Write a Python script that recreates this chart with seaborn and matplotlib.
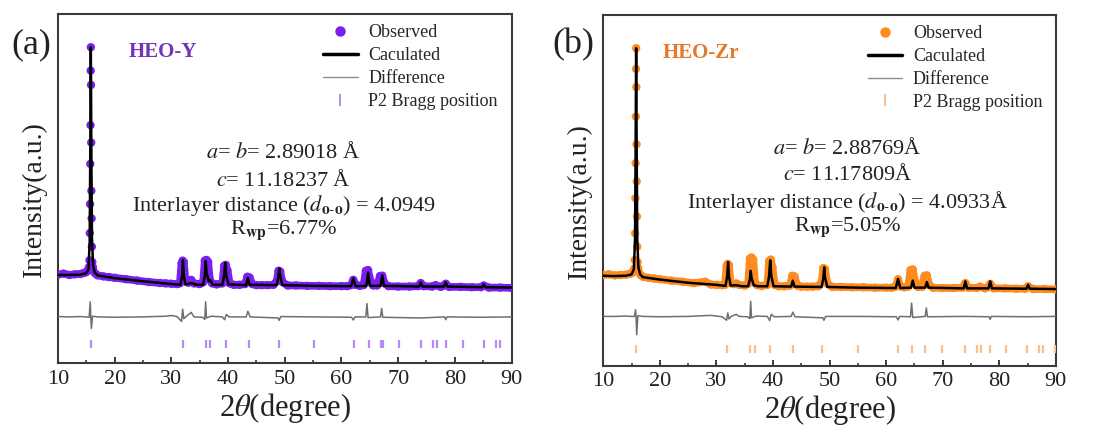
import numpy as np
import pandas as pd
import matplotlib
matplotlib.use('Agg')
import matplotlib.pyplot as plt
import seaborn as sns
from matplotlib.lines import Line2D
from matplotlib.ticker import MultipleLocator

sns.set_theme(style='ticks')
plt.rcParams['font.family'] = ['Liberation Serif', 'DejaVu Serif']
plt.rcParams['mathtext.fontset'] = 'stix'

# ---- panel (a): HEO-Y ----
obs_x_a = [10, 11, 12, 13, 14, 14.6, 15.0, 15.3, 15.45,
           15.56, 15.62, 15.67, 15.71, 15.75, 15.78, 15.81, 15.84, 15.87, 15.90, 15.94, 15.99, 16.06,
           16.15, 16.3, 16.6, 17, 18, 19, 20, 22, 24, 26, 28, 29, 30, 31, 31.5, 31.8, 32.0, 32.2, 32.5,
           33.0, 33.5, 34.0, 35.0, 35.6, 35.9, 36.2, 36.5, 36.8, 37.2, 38, 39.0, 39.3, 39.6, 39.9, 40.3,
           41, 42, 43, 43.4, 43.8, 44.3, 45, 46, 47, 48, 48.6, 48.9, 49.2, 49.6, 50.5, 52, 54, 56, 58, 60,
           61, 61.7, 62.1, 62.5, 63.2, 63.9, 64.3, 64.7, 65.1, 65.6, 66.3, 66.8, 67.2, 67.6, 68.3, 70, 72,
           73.5, 74, 74.5, 76, 76.6, 77.5, 78, 78.4, 79, 81, 83, 84.6, 85.1, 86, 88, 90]
obs_y_a = [25.4, 25.7, 25.3, 25.5, 25.6, 25.9, 26.1, 26.6, 27.5,
           29.5, 37.3, 45.6, 57.1, 68.2, 83.8, 90.5, 79.7, 63.2, 49.4, 41.5, 33.4, 29.0,
           27.6, 26.3, 25.7, 25.2, 24.9, 24.7, 24.5, 24.1, 23.7, 23.3, 23.0, 22.9, 22.8, 22.7, 22.9, 28.6, 29.4, 29.0, 23.4,
           23.1, 23.9, 22.9, 22.7, 23.2, 29.4, 29.6, 29.0, 23.9, 22.9, 22.6, 22.9, 27.9, 28.2, 26.6, 22.9,
           22.5, 22.5, 22.7, 24.8, 24.6, 22.7, 22.4, 22.4, 22.4, 22.5, 23.6, 26.5, 26.3, 23.3, 22.3, 22.3, 22.2, 22.2, 22.1, 22.1,
           22.1, 22.4, 23.9, 22.5, 22.2, 22.4, 26.5, 26.7, 23.8, 22.3, 22.3, 25.0, 25.1, 22.9, 22.1, 22.0, 22.0,
           22.1, 23.0, 22.1, 22.0, 22.4, 21.9, 22.2, 22.8, 21.9, 21.9, 21.8, 21.8, 22.3, 21.7, 21.7, 21.6]

calc_x_a = [10, 12, 14, 15.0, 15.4, 15.6, 15.7, 15.8, 15.9, 16.0, 16.2, 16.5, 17, 20, 25, 30, 31.6, 31.9,
            32.05, 32.2, 32.5, 33.5, 34.5, 35.6, 35.9, 36.05, 36.2, 36.6, 36.9, 37.3, 39.0, 39.3, 39.5,
            39.7, 40.1, 43.2, 43.5, 43.8, 48.6, 48.9, 49.05, 49.2, 49.6, 55, 61.7, 62.1, 62.5, 64.4, 64.7,
            65.0, 66.9, 67.2, 67.5, 73.7, 74.0, 74.3, 78.1, 78.4, 78.7, 84.8, 85.1, 85.4, 90]
calc_y_a = [25.3, 25.3, 25.4, 25.8, 27.0, 35.0, 60.0, 90.5, 60.0, 36.0, 28.0, 26.0, 25.2, 24.4, 23.5, 22.7, 22.5, 25.0,
            29.6, 25.0, 22.6, 23.0, 22.5, 22.5, 25.0, 29.3, 26.0, 23.5, 23.8, 22.5, 22.5, 25.0, 28.8,
            25.0, 22.6, 22.4, 24.5, 22.5, 22.4, 25.0, 27.2, 25.0, 22.4, 22.2, 22.1, 24.3, 22.1, 22.2, 26.0,
            22.2, 22.2, 25.2, 22.2, 22.0, 23.2, 22.0, 22.0, 23.2, 22.0, 21.8, 22.6, 21.8, 21.7]

diff_x_a = [10, 12, 14, 15.0, 15.5, 15.7, 15.8, 15.9, 16.1, 17, 20, 25, 29, 30, 31, 31.8, 32.0, 32.2, 32.6,
            33.5, 34, 35.5, 35.9, 36.05, 36.2, 37, 39, 39.4, 39.7, 40.2, 43.2, 43.5, 43.9, 48.8, 49.0, 49.3,
            55, 61.8, 62.1, 62.4, 64.3, 64.5, 64.7, 66.9, 67.1, 67.3, 74, 78.2, 78.4, 78.6, 85, 90]
diff_y_a = [13.4, 13.3, 13.4, 13.3, 13.2, 17.6, 13.0, 10.0, 13.5, 13.3, 13.2, 13.3, 13.5, 13.7, 13.4, 12.0, 15.5, 12.8, 13.4,
            14.6, 13.3, 13.2, 12.6, 17.6, 13.0, 13.5, 13.3, 12.5, 14.0, 13.3, 13.3, 14.9, 13.3, 13.0, 12.3, 13.4,
            13.3, 13.2, 12.4, 13.3, 13.3, 17.1, 13.1, 13.3, 15.7, 13.2, 13.0, 13.3, 12.5, 13.3, 13.2, 13.3]

bragg_a = [15.83, 32.1, 36.2, 36.9, 39.7, 43.7, 49.0, 55.2, 62.3, 64.8, 67.0, 67.3, 70.1, 74.0,
           76.2, 76.8, 78.5, 81.4, 85.2, 87.3, 87.9]

# ---- panel (b): HEO-Zr ----
obs_x_b = obs_x_a
obs_y_b = [25.8, 26.0, 25.7, 25.8, 25.9, 26.1, 26.3, 26.8, 27.6,
           30.1, 37.7, 47.7, 57.7, 71.0, 84.6, 90.5, 79.4, 63.1, 52.5, 42.5, 33.9, 29.5,
           27.8, 26.4, 25.8, 25.3, 25.0, 24.8, 24.6, 24.2, 23.9, 23.5, 23.9, 23.1, 23.0, 22.9, 23.0, 28.4, 29.0, 28.6, 23.5,
           23.2, 23.4, 23.0, 22.8, 23.3, 30.5, 30.8, 30.2, 23.8, 22.9, 22.7, 23.0, 29.8, 30.2, 28.0, 23.0,
           22.6, 22.6, 22.8, 25.6, 25.4, 22.8, 22.5, 22.5, 22.5, 22.6, 23.8, 27.8, 27.5, 23.3, 22.4, 22.4, 22.3, 22.3, 22.2, 22.2,
           22.2, 22.5, 24.6, 22.6, 22.3, 22.5, 27.2, 27.4, 23.9, 22.4, 22.4, 25.6, 25.7, 23.0, 22.2, 22.1, 22.1,
           22.2, 23.5, 22.2, 22.1, 22.5, 22.0, 22.4, 23.3, 22.0, 22.0, 21.9, 21.9, 22.6, 21.8, 21.8, 21.7]

calc_x_b = calc_x_a
calc_y_b = [25.6, 25.5, 25.6, 26.0, 27.5, 36.0, 60.0, 90.5, 60.0, 36.0, 28.0, 26.0, 25.2, 24.5, 23.6, 23.0, 22.7, 25.5,
            29.5, 25.5, 22.8, 22.9, 22.6, 22.6, 24.5, 27.0, 25.0, 22.8, 22.8, 22.6, 22.6, 25.5, 30.0,
            25.5, 22.6, 22.5, 24.2, 22.5, 22.4, 25.0, 28.0, 25.0, 22.4, 22.2, 22.1, 24.7, 22.1, 22.2, 24.2,
            22.2, 22.2, 23.8, 22.2, 22.0, 24.0, 22.0, 22.0, 24.0, 22.0, 21.9, 23.0, 21.9, 21.8]

diff_x_b = diff_x_a
diff_y_b = [14.0, 14.0, 14.1, 14.0, 14.0, 15.9, 13.5, 8.8, 14.2, 14.0, 13.9, 14.0, 14.3, 14.1, 13.9, 12.9, 15.0, 13.3, 14.0,
            14.6, 14.0, 13.9, 13.4, 18.3, 13.6, 14.1, 14.0, 12.8, 14.6, 13.9, 14.0, 15.2, 13.9, 13.6, 12.9, 14.0,
            14.0, 13.9, 13.0, 14.0, 13.9, 17.8, 13.7, 14.0, 16.4, 13.9, 14.0, 13.9, 13.2, 14.0, 13.9, 14.0]

bragg_b = [15.8, 31.9, 35.9, 36.8, 39.4, 43.5, 48.7, 55.0, 62.1, 64.5, 66.9, 69.9, 73.9,
           76.1, 76.7, 78.4, 81.2, 84.9, 87.1, 87.8, 89.9]

purple = '#7A1FF0'
purple_text = '#7433B5'
purple_light = '#B788F2'
orange = '#FF8A1E'
orange_text = '#E5782A'
orange_light = '#F7C08E'
spine_col = '#3a3a3a'


def draw_panel(ax, ox, oy, cx, cy, dx, dy, bragg, col, col_light, bragg_lo, bragg_hi):
    obs = pd.DataFrame({'x': ox, 'y': oy})
    left = obs[obs.x < 15.5]
    right = obs[obs.x > 16.1]
    for seg in (left, right):
        sns.lineplot(data=seg, x='x', y='y', color=col, lw=5.5, sort=False,
                     estimator=None, ax=ax, solid_capstyle='round', zorder=2)
    sns.scatterplot(data=obs, x='x', y='y', color=col, s=36, edgecolor='none',
                    ax=ax, zorder=3)
    sns.lineplot(x=cx, y=cy, color='black', lw=1.8, sort=False, estimator=None,
                 ax=ax, zorder=4)
    sns.lineplot(x=dx, y=dy, color='#6e6e6e', lw=1.1, sort=False, estimator=None,
                 ax=ax, zorder=4)
    ax.vlines(bragg, bragg_lo, bragg_hi, color=col_light, lw=1.6, zorder=4)

    ax.set_xlim(10, 90)
    ax.set_ylim(0, 100)
    ax.set_yticks([])
    ax.xaxis.set_major_locator(MultipleLocator(10))
    ax.xaxis.set_minor_locator(MultipleLocator(5))
    ax.tick_params(axis='x', which='major', direction='in', length=4, width=1.4,
                   labelsize=16, pad=5, colors=spine_col, labelcolor='#222222')
    ax.tick_params(axis='x', which='minor', direction='in', length=2.5, width=1.2,
                   colors=spine_col)
    for sp in ax.spines.values():
        sp.set_visible(True)
        sp.set_color(spine_col)
        sp.set_linewidth(1.5)
    ax.set_xlabel(r'2$\theta$(degree)', fontsize=22, labelpad=1, color='#222222')
    ax.set_ylabel('Intensity(a.u.)', fontsize=20, color='#222222')
    ax.yaxis.set_label_coords(-0.025, 0.47)

    handles = [
        Line2D([], [], marker='o', ls='none', color=col, markersize=6.5),
        Line2D([], [], color='black', lw=2.5),
        Line2D([], [], color='#8c8c8c', lw=1.0),
        Line2D([], [], marker='|', ls='none', color=col_light, markersize=8, markeredgewidth=1.4),
    ]
    labels = ['Observed', 'Caculated', 'Difference', 'P2 Bragg position']
    ax.legend(handles, labels, loc='upper right', frameon=False, fontsize=13,
              handlelength=1.9, labelspacing=0.33, handletextpad=0.6,
              borderaxespad=0.35, bbox_to_anchor=(1.0, 1.01))


fig = plt.figure(figsize=(10.93, 4.25), dpi=100)
ax_a = fig.add_axes([0.053, 0.145, 0.415, 0.822])
ax_b = fig.add_axes([0.552, 0.140, 0.414, 0.825])

draw_panel(ax_a, obs_x_a, obs_y_a, calc_x_a, calc_y_a, diff_x_a, diff_y_a, bragg_a,
           purple, purple_light, 4.3, 6.7)
draw_panel(ax_b, obs_x_b, obs_y_b, calc_x_b, calc_y_b, diff_x_b, diff_y_b, bragg_b,
           orange, orange_light, 3.5, 5.9)

ax_a.text(22.4, 89.1, 'HEO-Y', color=purple_text, fontsize=15, fontweight='bold',
          va='center', ha='left')
ax_b.text(20.5, 89.2, 'HEO-Zr', color=orange_text, fontsize=15, fontweight='bold',
          va='center', ha='left')

lines_a = [r'$a$= $b$= 2.89018 Å', r'$c$= 11.18237 Å',
           r'Interlayer distance ($d_{\mathbf{o}\text{-}\mathbf{o}}$) = 4.0949', r'R$_{\mathbf{wp}}$=6.77%']
lines_b = [r'$a$= $b$= 2.88769Å', r'$c$= 11.17809Å',
           r'Interlayer distance ($d_{\mathbf{o}\text{-}\mathbf{o}}$) = 4.0933Å', r'R$_{\mathbf{wp}}$=5.05%']
ys_a = [60.5, 52.4, 45.3, 38.1]
ys_b = [62.0, 54.4, 46.7, 39.3]
for t, y in zip(lines_a, ys_a):
    ax_a.text(49.8, y, t, fontsize=16, ha='center', va='center', color='#222222')
for t, y in zip(lines_b, ys_b):
    ax_b.text(53.2, y, t, fontsize=16, ha='center', va='center', color='#222222')

fig.text(0.010, 0.895, '(a)', fontsize=26, va='center', ha='left', color='#222222')
fig.text(0.505, 0.895, '(b)', fontsize=26, va='center', ha='left', color='#222222')

fig.savefig('out.png', dpi=100)
